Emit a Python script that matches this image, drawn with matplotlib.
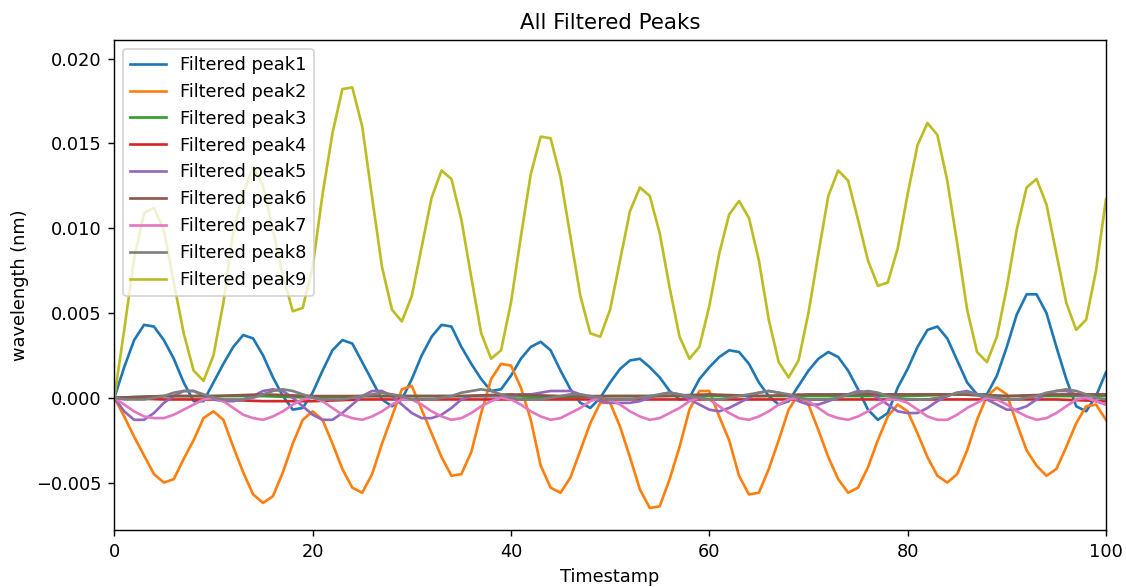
import numpy as np
import matplotlib
matplotlib.use('Agg')
import matplotlib.pyplot as plt

# timestamps
t = list(range(0, 101))
t_slow = list(range(0, 101, 5))

peak1 = [0.0000, 0.0018, 0.0034, 0.0043, 0.0042, 0.0034, 0.0023, 0.0009, -0.0002, -0.0002,
         0.0009, 0.0020, 0.0030, 0.0037, 0.0035, 0.0025, 0.0012, 0.0001, -0.0007, -0.0006,
         0.0003, 0.0016, 0.0028, 0.0034, 0.0032, 0.0021, 0.0010, -0.0001, -0.0005, -0.0001,
         0.0011, 0.0025, 0.0036, 0.0043, 0.0042, 0.0030, 0.0020, 0.0011, 0.0004, 0.0005,
         0.0013, 0.0023, 0.0030, 0.0033, 0.0028, 0.0016, 0.0005, -0.0003, -0.0006, 0.0000,
         0.0009, 0.0017, 0.0022, 0.0023, 0.0018, 0.0012, 0.0004, -0.0001, 0.0000, 0.0011,
         0.0018, 0.0024, 0.0028, 0.0027, 0.0020, 0.0009, 0.0001, -0.0004, -0.0002, 0.0007,
         0.0016, 0.0023, 0.0027, 0.0024, 0.0016, 0.0005, -0.0007, -0.0013, -0.0009, 0.0006,
         0.0017, 0.0030, 0.0040, 0.0042, 0.0035, 0.0022, 0.0009, 0.0002, 0.0002, 0.0013,
         0.0030, 0.0049, 0.0061, 0.0061, 0.0050, 0.0030, 0.0011, -0.0005, -0.0008, 0.0001,
         0.0015]

peak2 = [0.0000, -0.0011, -0.0023, -0.0034, -0.0045, -0.0050, -0.0048, -0.0036, -0.0025, -0.0012,
         -0.0008, -0.0013, -0.0029, -0.0044, -0.0057, -0.0062, -0.0058, -0.0044, -0.0027, -0.0013,
         -0.0008, -0.0013, -0.0027, -0.0042, -0.0053, -0.0056, -0.0045, -0.0027, -0.0011, 0.0005,
         0.0007, -0.0007, -0.0021, -0.0035, -0.0046, -0.0045, -0.0032, -0.0009, 0.0011, 0.0020,
         0.0019, 0.0006, -0.0013, -0.0040, -0.0053, -0.0056, -0.0047, -0.0031, -0.0015, -0.0003,
         -0.0003, -0.0017, -0.0035, -0.0054, -0.0065, -0.0064, -0.0048, -0.0029, -0.0007, 0.0004,
         0.0004, -0.0011, -0.0025, -0.0046, -0.0057, -0.0056, -0.0042, -0.0025, -0.0007, 0.0002,
         -0.0004, -0.0019, -0.0035, -0.0048, -0.0056, -0.0053, -0.0041, -0.0025, -0.0011, -0.0004,
         -0.0008, -0.0021, -0.0035, -0.0046, -0.0050, -0.0045, -0.0031, -0.0013, 0.0001, 0.0006,
         0.0002, -0.0015, -0.0031, -0.0040, -0.0046, -0.0042, -0.0029, -0.0015, -0.0005, -0.0004,
         -0.0013]

peak3 = [0.0000, 0.0001, 0.0001, 0.0001, 0.0000, 0.0001, 0.0001, 0.0001, 0.0001, 0.0000, 0.0001,
         0.0001, 0.0001, 0.0001, 0.0001, 0.0001, 0.0001, 0.0002, 0.0001, 0.0001, 0.0001]

peak4 = [0.0000, -0.0001, -0.0001, -0.0002, -0.0002, -0.0001, -0.0001, -0.0001, -0.0001, -0.0001, -0.0001,
         -0.0001, -0.0001, -0.0001, -0.0001, -0.0001, -0.0001, -0.0001, -0.0001, -0.0001, -0.0002]

peak5 = [0.0000, -0.0008, -0.0013, -0.0013, -0.0009, -0.0003, 0.0001, 0.0004, 0.0004, 0.0001,
         -0.0001, -0.0002, -0.0002, -0.0001, 0.0001, 0.0004, 0.0005, 0.0004, 0.0000, -0.0005,
         -0.0010, -0.0013, -0.0013, -0.0009, -0.0004, 0.0001, 0.0004, 0.0004, 0.0001, -0.0004,
         -0.0009, -0.0012, -0.0012, -0.0010, -0.0006, -0.0001, 0.0001, 0.0001, 0.0001, 0.0001,
         0.0001, 0.0002, 0.0002, 0.0003, 0.0004, 0.0004, 0.0004, 0.0002, 0.0000, -0.0002,
         -0.0003, -0.0003, -0.0003, -0.0002, 0.0000, 0.0002, 0.0003, 0.0002, -0.0001, -0.0004,
         -0.0007, -0.0008, -0.0006, -0.0003, 0.0000, 0.0003, 0.0004, 0.0003, 0.0001, -0.0002,
         -0.0004, -0.0004, -0.0002, 0.0000, 0.0002, 0.0004, 0.0003, 0.0000, -0.0004, -0.0008,
         -0.0009, -0.0009, -0.0006, -0.0002, 0.0001, 0.0003, 0.0004, 0.0002, -0.0001, -0.0004,
         -0.0007, -0.0007, -0.0005, -0.0001, 0.0002, 0.0004, 0.0004, 0.0002, 0.0000, -0.0002,
         -0.0004]

peak6 = [0.0000, 0.0001, 0.0001, 0.0002, 0.0001, 0.0001, 0.0001, 0.0001, 0.0002, 0.0001, 0.0001,
         0.0001, 0.0002, 0.0001, 0.0002, 0.0002, 0.0002, 0.0002, 0.0001, 0.0002, 0.0002]

peak7 = [0.0000, -0.0004, -0.0008, -0.0011, -0.0012, -0.0012, -0.0010, -0.0007, -0.0004, -0.0001,
         0.0000, -0.0002, -0.0006, -0.0010, -0.0012, -0.0013, -0.0011, -0.0008, -0.0004, -0.0001,
         0.0000, -0.0002, -0.0006, -0.0010, -0.0012, -0.0013, -0.0011, -0.0008, -0.0004, -0.0001,
         -0.0001, -0.0004, -0.0008, -0.0011, -0.0013, -0.0012, -0.0009, -0.0005, -0.0002, 0.0000,
         -0.0001, -0.0004, -0.0008, -0.0011, -0.0013, -0.0012, -0.0009, -0.0006, -0.0002, 0.0000,
         -0.0001, -0.0004, -0.0008, -0.0011, -0.0013, -0.0012, -0.0009, -0.0006, -0.0002, 0.0000,
         -0.0001, -0.0005, -0.0009, -0.0012, -0.0013, -0.0011, -0.0008, -0.0004, -0.0001, 0.0000,
         -0.0002, -0.0006, -0.0010, -0.0012, -0.0013, -0.0011, -0.0008, -0.0004, -0.0001, -0.0001,
         -0.0003, -0.0007, -0.0011, -0.0013, -0.0013, -0.0010, -0.0006, -0.0003, 0.0000, -0.0001,
         -0.0004, -0.0008, -0.0011, -0.0013, -0.0012, -0.0009, -0.0005, -0.0001, 0.0000, -0.0002,
         -0.0004]

peak8 = [0.0000, -0.0001, -0.0001, -0.0001, 0.0000, 0.0001, 0.0003, 0.0004, 0.0004, 0.0002,
         0.0000, -0.0001, -0.0001, -0.0001, 0.0000, 0.0002, 0.0004, 0.0005, 0.0004, 0.0002,
         0.0000, -0.0001, -0.0001, -0.0001, 0.0000, 0.0001, 0.0002, 0.0003, 0.0002, 0.0001,
         -0.0001, -0.0001, -0.0001, 0.0000, 0.0001, 0.0003, 0.0004, 0.0005, 0.0004, 0.0002,
         0.0000, -0.0001, -0.0001, -0.0001, 0.0000, 0.0001, 0.0002, 0.0002, 0.0001, 0.0000,
         -0.0001, -0.0001, -0.0001, 0.0000, 0.0001, 0.0002, 0.0003, 0.0002, 0.0001, 0.0000,
         -0.0001, -0.0001, 0.0000, 0.0001, 0.0002, 0.0003, 0.0004, 0.0003, 0.0002, 0.0000,
         -0.0001, -0.0001, -0.0001, 0.0000, 0.0002, 0.0003, 0.0004, 0.0003, 0.0001, 0.0000,
         -0.0001, -0.0001, -0.0001, 0.0000, 0.0001, 0.0003, 0.0003, 0.0002, 0.0001, 0.0000,
         -0.0001, -0.0001, 0.0000, 0.0001, 0.0003, 0.0004, 0.0005, 0.0004, 0.0002, 0.0000,
         -0.0001]

peak9 = [0.0000, 0.0040, 0.0082, 0.0109, 0.0112, 0.0099, 0.0068, 0.0038, 0.0016, 0.0010,
         0.0025, 0.0056, 0.0098, 0.0121, 0.0136, 0.0125, 0.0099, 0.0072, 0.0051, 0.0053,
         0.0077, 0.0120, 0.0156, 0.0182, 0.0183, 0.0160, 0.0118, 0.0077, 0.0052, 0.0045,
         0.0060, 0.0089, 0.0118, 0.0134, 0.0129, 0.0105, 0.0071, 0.0038, 0.0023, 0.0028,
         0.0056, 0.0095, 0.0132, 0.0154, 0.0153, 0.0130, 0.0095, 0.0060, 0.0038, 0.0036,
         0.0052, 0.0081, 0.0110, 0.0124, 0.0119, 0.0097, 0.0065, 0.0036, 0.0023, 0.0030,
         0.0054, 0.0085, 0.0108, 0.0116, 0.0106, 0.0081, 0.0046, 0.0021, 0.0012, 0.0022,
         0.0050, 0.0085, 0.0119, 0.0134, 0.0128, 0.0105, 0.0081, 0.0066, 0.0068, 0.0088,
         0.0120, 0.0149, 0.0162, 0.0155, 0.0128, 0.0091, 0.0052, 0.0027, 0.0021, 0.0036,
         0.0065, 0.0099, 0.0124, 0.0129, 0.0114, 0.0085, 0.0056, 0.0040, 0.0046, 0.0075,
         0.0117]

series = [(t, peak1), (t, peak2), (t_slow, peak3), (t_slow, peak4), (t, peak5),
          (t_slow, peak6), (t, peak7), (t, peak8), (t, peak9)]

fig = plt.figure(figsize=(1126 / 128, 587 / 128), dpi=128)
fig.subplots_adjust(left=0.1015, right=0.9822, bottom=0.097, top=0.932)

for i, (x, y) in enumerate(series):
    plt.plot(x, y, label='Filtered peak' + str(i + 1))

plt.xlim(0, 100)
plt.ylim(-0.0078, 0.0211)
plt.title('All Filtered Peaks')
plt.xlabel('Timestamp')
plt.ylabel('wavelength (nm)')
plt.legend(loc='upper left')
plt.savefig('out.png', dpi=128)
